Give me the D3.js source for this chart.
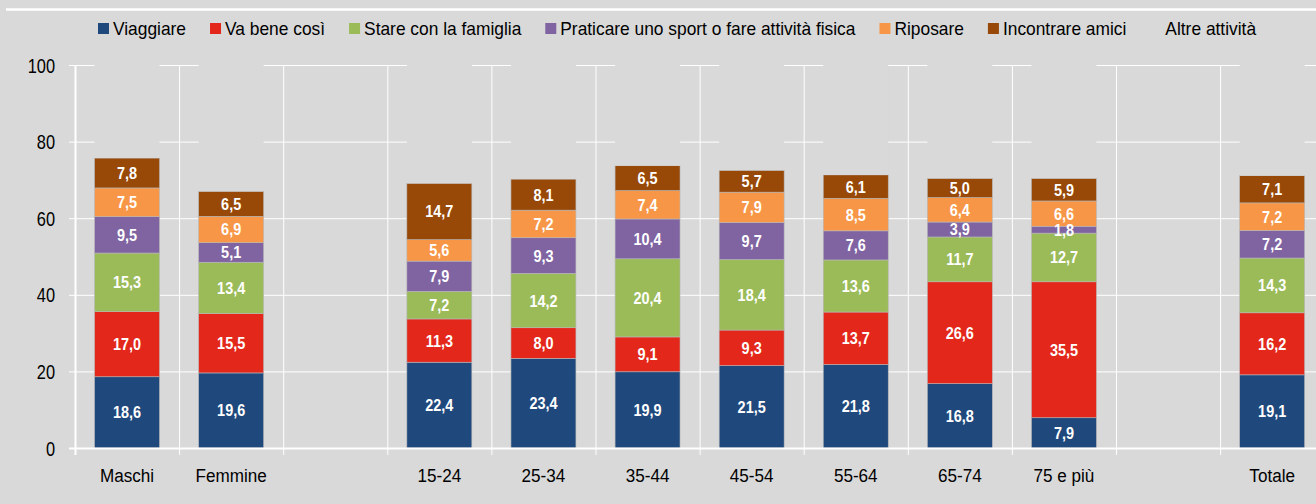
<!DOCTYPE html>
<html>
<head>
<meta charset="utf-8">
<title>Attività preferite</title>
<script src="https://d3js.org/d3.v7.min.js"></script>
<style>
  html, body { margin: 0; padding: 0; background: #d9d9d9; }
  svg { display: block; }
  text { font-family: "Liberation Sans", Arial, sans-serif; }
</style>
</head>
<body>
<svg id="chart" width="1316" height="504"></svg>
<script>
// categorie (le stringhe vuote sono gli spazi tra i gruppi)
var categories = ["Maschi", "Femmine", "", "15-24", "25-34", "35-44", "45-54", "55-64", "65-74", "75 e più", "", "Totale"];

var viaggiare   = [18.6, 19.6, null, 22.4, 23.4, 19.9, 21.5, 21.8, 16.8,  7.9, null, 19.1];
var vaBeneCosi  = [17.0, 15.5, null, 11.3,  8.0,  9.1,  9.3, 13.7, 26.6, 35.5, null, 16.2];
var famiglia    = [15.3, 13.4, null,  7.2, 14.2, 20.4, 18.4, 13.6, 11.7, 12.7, null, 14.3];
var sport       = [ 9.5,  5.1, null,  7.9,  9.3, 10.4,  9.7,  7.6,  3.9,  1.8, null,  7.2];
var riposare    = [ 7.5,  6.9, null,  5.6,  7.2,  7.4,  7.9,  8.5,  6.4,  6.6, null,  7.2];
var amici       = [ 7.8,  6.5, null, 14.7,  8.1,  6.5,  5.7,  6.1,  5.0,  5.9, null,  7.1];
var altre       = [24.3, 33.0, null, 30.9, 29.8, 26.3, 27.5, 28.7, 29.6, 29.6, null, 28.9];

var seriesNames = ["Viaggiare", "Va bene così", "Stare con la famiglia", "Praticare uno sport o fare attività fisica", "Riposare", "Incontrare amici", "Altre attività"];
var seriesData = [viaggiare, vaBeneCosi, famiglia, sport, riposare, amici, altre];
var colors = ["#1f497d", "#e3271b", "#9bbb59", "#8064a2", "#f79646", "#984807", "#d9d9d9"];
var yTicks = [0, 20, 40, 60, 80, 100];

var svg = d3.select("#chart");

// tabella per d3.stack
var rows = categories.map(function (c, i) {
  var r = { idx: i, name: c };
  seriesNames.forEach(function (s, k) { r[s] = seriesData[k][i] || 0; });
  return r;
});

var x = d3.scaleBand()
  .domain(d3.range(categories.length))
  .range([75, 75 + 104.1 * categories.length])
  .paddingInner(0.376)
  .paddingOuter(0.188);
var step = x.step();

var y = d3.scaleLinear().domain([0, 100]).range([448, 65]);

// testo leggermente compresso, come nell'originale
function txt(g, px, py, s, size, sx, anchor, weight, fill) {
  return g.append("text")
    .attr("transform", "translate(" + px + "," + py + ") scale(" + sx + ",1)")
    .attr("text-anchor", anchor)
    .attr("font-size", size)
    .attr("font-weight", weight)
    .attr("fill", fill)
    .text(s);
}

// linea bianca in alto
svg.append("line")
  .attr("x1", 6).attr("x2", 1316)
  .attr("y1", 9.5).attr("y2", 9.5)
  .attr("stroke", "#fff").attr("stroke-width", 2.5);

// griglia orizzontale
var grid = svg.append("g");
grid.selectAll("line.h")
  .data(yTicks)
  .enter().append("line")
    .attr("x1", 69).attr("x2", 1316)
    .attr("y1", function (d) { return y(d) + 0.5; })
    .attr("y2", function (d) { return y(d) + 0.5; })
    .attr("stroke", "#fff").attr("stroke-width", 1);

// griglia verticale ai confini delle categorie
grid.selectAll("line.v")
  .data(d3.range(categories.length + 1))
  .enter().append("line")
    .attr("x1", function (i) { return 75 + i * step + 0.5; })
    .attr("x2", function (i) { return 75 + i * step + 0.5; })
    .attr("y1", y(100))
    .attr("y2", y(0) + 7)
    .attr("stroke", "#fff")
    .attr("stroke-width", function (i) { return i === 0 ? 2 : 1; });

// barre impilate
var stack = d3.stack().keys(seriesNames);
var stacked = stack(rows);

var barsG = svg.append("g");
stacked.forEach(function (layer, k) {
  barsG.append("g")
    .selectAll("rect")
    .data(layer.filter(function (d) { return categories[d.data.idx] !== ""; }))
    .enter().append("rect")
      .attr("x", function (d) { return x(d.data.idx); })
      .attr("width", x.bandwidth())
      .attr("y", function (d) { return y(d[1]); })
      .attr("height", function (d) { return y(d[0]) - y(d[1]); })
      .attr("fill", colors[k])
      .attr("stroke", k === 6 ? "none" : "#b8b8b8")
      .attr("stroke-width", 0.6);
});

// asse x
svg.append("line")
  .attr("x1", 69).attr("x2", 1316)
  .attr("y1", y(0) + 0.5).attr("y2", y(0) + 0.5)
  .attr("stroke", "#fff").attr("stroke-width", 2);

// etichette valori
var labG = svg.append("g");
stacked.forEach(function (layer, k) {
  if (k === 6) return;
  layer.forEach(function (d) {
    var v = seriesData[k][d.data.idx];
    if (v == null) return;
    var cy = (y(d[0]) + y(d[1])) / 2;
    txt(labG, x(d.data.idx) + x.bandwidth() / 2, cy + 6, d3.format(".1f")(v).replace(".", ","), 17, 0.85, "middle", "bold", "#fff");
  });
});

// etichette asse y
var axG = svg.append("g");
yTicks.forEach(function (t) {
  txt(axG, 55, y(t) + 7.5, t, 20, 0.82, "end", "normal", "#000");
});

// etichette categorie
categories.forEach(function (c, i) {
  if (c === "") return;
  txt(axG, x(i) + x.bandwidth() / 2, 482, c, 19, 0.9, "middle", "normal", "#000");
});

// legenda
var legG = svg.append("g");
var lx = 98;
seriesNames.forEach(function (s, k) {
  legG.append("rect")
    .attr("x", lx).attr("y", 23)
    .attr("width", 11).attr("height", 11)
    .attr("fill", colors[k]);
  var t = txt(legG, lx + 15, 35, s, 18, 0.965, "start", "normal", "#000");
  var w = t.node().getComputedTextLength() * 0.965;
  lx = lx + 15 + w + 24;
});
</script>
</body>
</html>
